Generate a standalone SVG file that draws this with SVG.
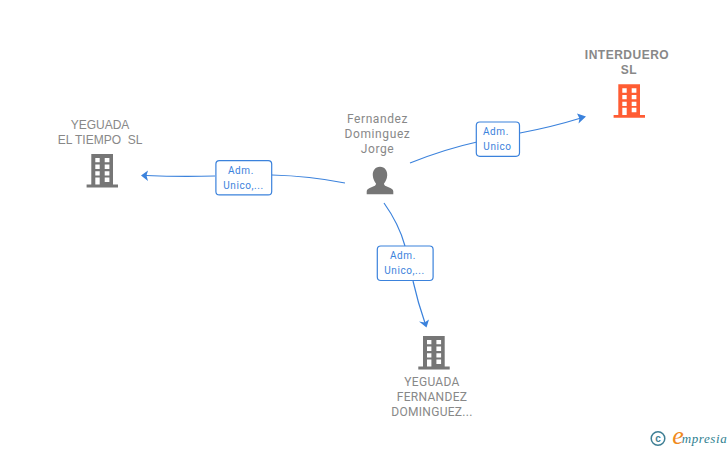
<svg xmlns="http://www.w3.org/2000/svg" width="728" height="450" viewBox="0 0 728 450">
<style>
text{font-family:"Roboto","Liberation Sans",Arial,sans-serif;text-anchor:middle}
.org{font-size:12px;fill:#888;letter-spacing:.3px}
.orgb{font-family:"Liberation Sans",Arial,sans-serif;font-size:12px;font-weight:bold;fill:#888;letter-spacing:.5px}
.org2{font-family:"Liberation Sans",Arial,sans-serif;font-size:12px;fill:#888}
.per{font-size:12px;fill:#888;letter-spacing:.6px}
.lab{font-size:10px;fill:#3b82dc;letter-spacing:.6px}
.box{fill:#fff;stroke:#3b82dc;stroke-width:1.2}
.con{fill:none;stroke:#3b82dc;stroke-width:1.2}
.head{fill:#3b82dc}
</style>
<defs>
<path id="bld" fill-rule="evenodd" d="M618.3 84.300H640V115H645V117.800H613.600V115H618.300ZM622.300 88.300V92.700H626.700V88.300ZM631.700 88.300V92.700H636.400V88.300ZM622.300 95V99.300H626.700V95ZM631.700 95V99.300H636.400V95ZM622.300 101.700V106H626.700V101.700ZM631.700 101.700V106H636.400V101.700ZM622.300 107.800V115H626.700V107.800ZM631.700 107.800V112.300H636.400V107.800Z"/>
</defs>
<g id="connectors">
<path class="con" d="M410 163Q445 149 477 142"/>
<path class="con" d="M520 133Q552 127 581 118"/>
<path class="head" d="M586 116.500L577 113.500L579.500 118.500L578.500 123.500Z"/>
<path class="con" d="M345 183Q310 176 272 175"/>
<path class="con" d="M215 176Q180 177 146 175.500"/>
<path class="head" d="M141 175.500L148 170.500L146.500 175.500L148 181Z"/>
<path class="con" d="M384 203Q399 224 405 246"/>
<path class="con" d="M413 281Q418 303 425 323"/>
<path class="head" d="M426.500 327.500L419 321.500L424.500 322.500L429 319.500Z"/>
</g>
<g id="edge-label-1">
<rect class="box" x="476.300" y="122" width="43.200" height="34.300" rx="3.500"/>
<text class="lab" x="496" y="135">Adm.</text>
<text class="lab" x="497.500" y="150">Unico</text>
</g>
<g id="edge-label-2">
<rect class="box" x="215.900" y="160.600" width="55.800" height="34.300" rx="3.500"/>
<text class="lab" x="241" y="174">Adm.</text>
<text class="lab" x="243.500" y="189">Unico,...</text>
</g>
<g id="edge-label-3">
<rect class="box" x="377.300" y="246" width="55.800" height="34.500" rx="3.500"/>
<text class="lab" x="403" y="259">Adm.</text>
<text class="lab" x="404.500" y="274">Unico,...</text>
</g>
<g id="node-interduero">
<text class="orgb" x="627" y="59">INTERDUERO</text>
<text class="orgb" x="629" y="74">SL</text>
<use href="#bld" fill="#ff5c33"/>
</g>
<g id="node-person">
<text class="per" x="377.500" y="123">Fernandez</text>
<text class="per" x="377.500" y="138">Dominguez</text>
<text class="per" x="377.500" y="153">Jorge</text>
<path fill="#767676" d="M380 166.800C385 166.800 387.500 171 387.200 175.500C387 179 385.500 181.500 384 183.500C384 185.500 385.500 186 388 187C391.500 188.200 393.300 189.500 393.300 191.500V194.300H366.700V191.500C366.700 189.500 368.500 188.200 372 187C374.500 186 376 185.500 376 183.500C374.500 181.500 373 179 372.800 175.500C372.500 171 375 166.800 380 166.800Z"/>
</g>
<g id="node-yeguada-tiempo">
<text class="org2" x="100" y="129">YEGUADA</text>
<text class="org2" x="100" y="144" xml:space="preserve">EL TIEMPO  SL</text>
<use href="#bld" fill="#767676" x="-527" y="69.600"/>
</g>
<g id="node-yeguada-fernandez">
<use href="#bld" fill="#767676" x="-195.300" y="251.600"/>
<text class="org" x="432" y="386">YEGUADA</text>
<text class="org" x="432" y="401">FERNANDEZ</text>
<text class="org" x="432" y="416">DOMINGUEZ...</text>
</g>
<g id="logo">
<circle cx="658" cy="438.500" r="6.800" fill="none" stroke="#3f7f94" stroke-width="1.500"/>
<text x="658" y="442" style="font-family:'Liberation Sans',Arial,sans-serif;font-size:10px;font-weight:bold;fill:#3f7f94">c</text>
<text x="678" y="444" style="font-family:'Liberation Serif',serif;font-size:26px;font-style:italic;fill:#f08a1d">e</text>
<text x="704.500" y="443" style="font-family:'Liberation Serif',serif;font-size:13px;font-style:italic;fill:#2f7f90;letter-spacing:.6px">mpresia</text>
</g>
</svg>
